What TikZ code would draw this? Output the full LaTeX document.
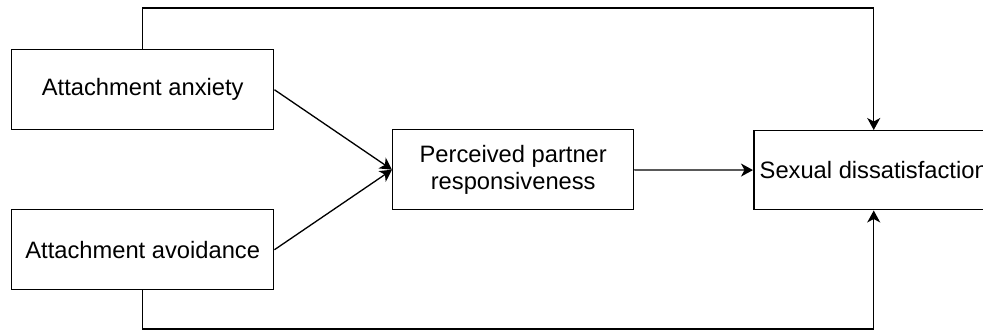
\documentclass[tikz,border=0pt]{standalone}
\usepackage{fontspec}
\setmainfont{Liberation Sans}
\usepackage{tikz}
\usetikzlibrary{arrows.meta}

\begin{document}
\begin{tikzpicture}[x=0.02cm, y=-0.02cm, line width=0.75pt,
    >={Stealth[length=0.24cm, width=0.26cm, inset=0.07cm]},
    box/.style={draw, line width=0.85pt, anchor=north west, align=center,
      inner sep=0pt, font=\fontsize{13.5}{16.5}\selectfont}]
  \useasboundingbox (0,0) rectangle (983,331);
  \clip (0,0) rectangle (983,331);
  %coordinates
  \coordinate (AnxBox)  at (11,49);
  \coordinate (AvoBox)  at (11,209);
  \coordinate (PprBox)  at (392,129);
  \coordinate (SexBox)  at (753,130);
  \coordinate (TopRun)  at (0,8);
  \coordinate (BotRun)  at (0,329);

  %nodes
  \node[box, minimum width=5.24cm, minimum height=1.6cm] (A) at (AnxBox) {Attachment anxiety};
  \node[box, minimum width=5.24cm, minimum height=1.6cm] (B) at (AvoBox) {Attachment avoidance};
  \node[box, minimum width=4.82cm, minimum height=1.6cm] (P) at (PprBox) {Perceived partner\\[-1pt] responsiveness};
  \node[box, minimum width=4.8cm, minimum height=1.58cm] (S) at (SexBox) {Sexual dissatisfaction};

  \draw[->] (A.east) -- (P.west);
  \draw[->] (B.east) -- (P.west);
  \draw[->] (P) -- (S);
  \draw[->] (A.north) -- (A.north |- TopRun) -| (S.north);
  \draw[->] (B.south) -- (B.south |- BotRun) -| (S.south);

\end{tikzpicture}
\end{document}
